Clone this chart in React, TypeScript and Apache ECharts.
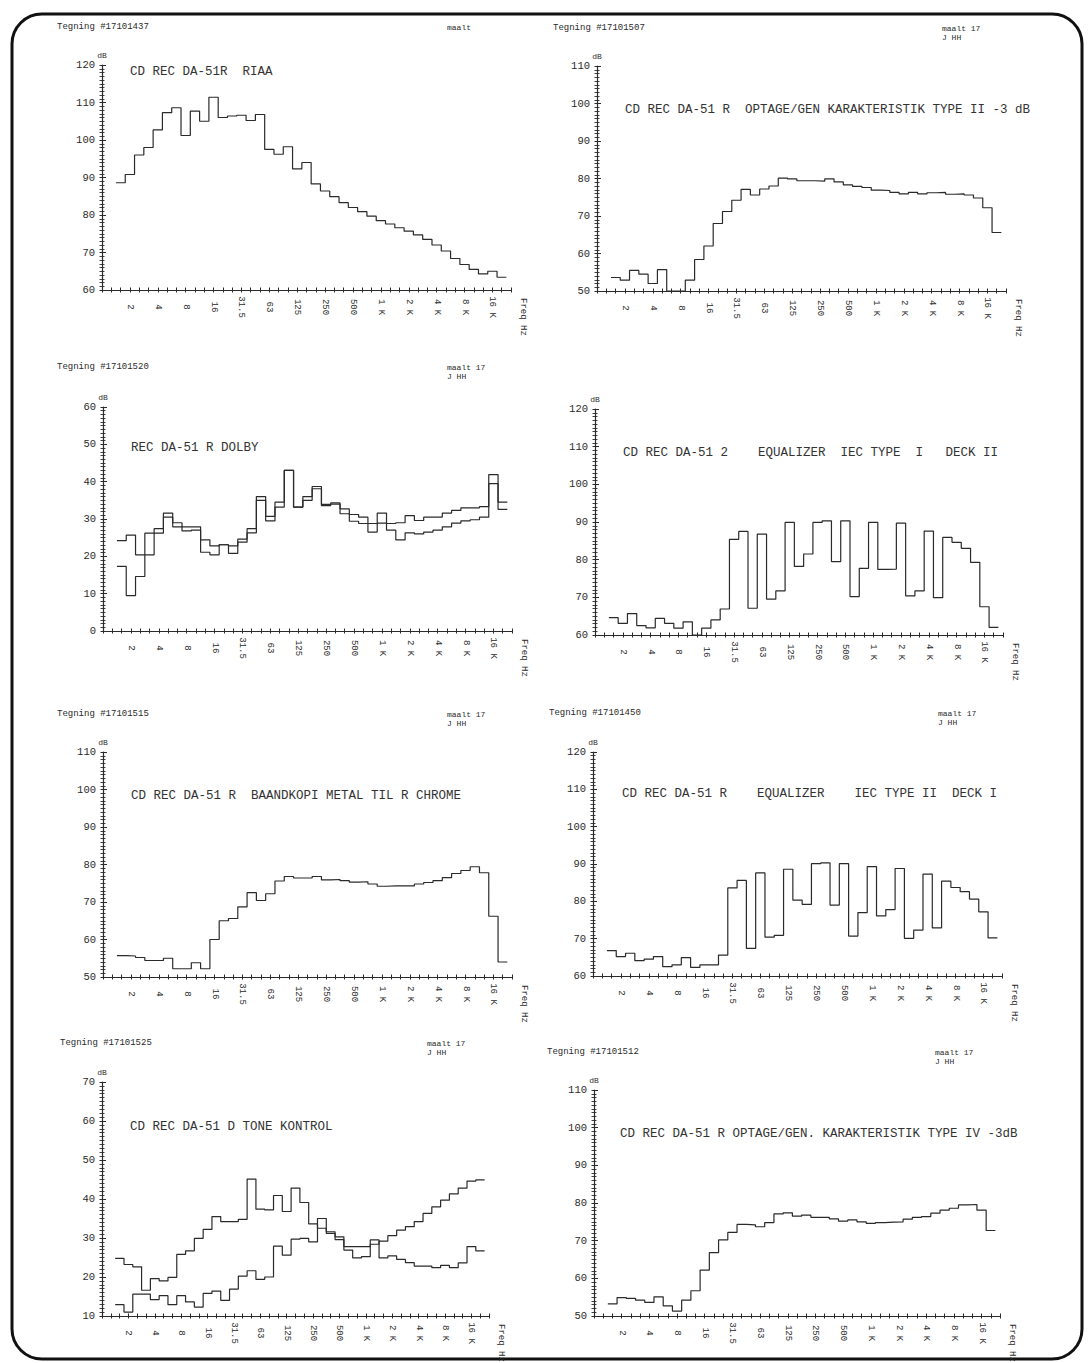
import React, { useEffect, useRef } from "react";
import * as echarts from "echarts";

// ---------- DATA ----------
// x axis: 1/3-octave band index, 0 = 1 Hz ... 44 = 25 kHz; labels every octave
const BAND_TICK_LABELS = ["2", "4", "8", "16", "31.5", "63", "125", "250", "500", "1 K", "2 K", "4 K", "8 K", "16 K"];
const FIRST_BAND = 2; // first measured band (1.6 Hz) ... last band 43 (20 kHz)

const riaa = [88.6, 90.8, 96, 98, 102.7, 107.3, 108.6, 101.2, 107.7, 105, 111.4, 106, 106.4, 106.6, 105.2, 106.8, 97.5, 96.2, 98.2, 92.3, 94, 88.3, 86.4, 84.9, 83.3, 82, 80.9, 79.7, 78.5, 77.6, 76.6, 75.7, 74.7, 73.5, 72, 70.4, 68.4, 66.8, 65.5, 64.3, 65, 63.4];
const optageTypeII = [53.6, 52.9, 55.5, 54.5, 52, 55.7, 50, 50, 52.9, 58.4, 62, 68, 71.2, 74.2, 77.1, 75.6, 77.2, 78, 80.1, 79.9, 79.4, 79.4, 79.3, 79.9, 79.1, 78.3, 77.9, 77.6, 76.9, 76.8, 76.3, 75.9, 76.3, 75.9, 76.2, 76.3, 75.8, 75.9, 75.6, 74.8, 72.2, 65.6];
const dolbyA = [24.2, 25.7, 20.4, 20.4, 26.2, 31.6, 29, 27.9, 27.9, 24.4, 22.8, 23.1, 22.8, 24.6, 27.4, 36, 30.7, 34.5, 43, 33.2, 36, 38.7, 33.9, 34.3, 32.7, 31.2, 30.5, 28.8, 31.6, 28.8, 29, 30.9, 29.6, 30.5, 30.5, 31.6, 32.3, 33, 33, 33.3, 41.9, 34.5];
const dolbyB = [17.3, 9.5, 14.6, 26.2, 27.4, 30.5, 27.9, 26.8, 27, 21.1, 20.4, 23.1, 20.8, 23.8, 26.3, 35, 29.5, 33.2, 43, 33.2, 35, 38.1, 33.6, 34, 31.4, 29.4, 28.8, 26.5, 28.9, 27, 24.4, 26.3, 26, 26.5, 27, 27.9, 28.9, 29.5, 29.8, 30.5, 39.5, 32.6];
const eqTypeIDeckII = [64.6, 63.1, 65.7, 62.5, 61.9, 64.4, 63.1, 61.8, 63.5, 60, 61.8, 64, 66.9, 85.4, 87.5, 67.1, 86.8, 69.5, 71.7, 89.9, 78.2, 81.5, 89.9, 90.3, 79.5, 90.3, 70.2, 77.7, 89.9, 77.4, 77.5, 89.7, 70.4, 71.7, 87.6, 69.9, 85.9, 84.6, 83, 79.3, 67.5, 62];
const baandkopi = [55.7, 55.6, 55.2, 54.4, 54.4, 55, 52.2, 52.2, 53.8, 52.2, 60, 65, 65.6, 68.7, 72.5, 70.4, 72.2, 75.6, 76.8, 76.4, 76.4, 76.8, 75.9, 76, 75.7, 75.3, 75.4, 74.8, 74.2, 74.3, 74.3, 74.3, 74.8, 75.2, 75.7, 76.5, 77.6, 78.4, 79.4, 77.8, 66.2, 54];
const eqTypeIIDeckI = [66.8, 65.2, 66.1, 64.1, 64.5, 65.2, 62.5, 63, 64.9, 62.3, 63, 63, 65.6, 83.6, 85.6, 67.4, 87.6, 70.4, 70.9, 88.6, 80.3, 79.2, 90.1, 90.3, 79, 90.1, 70.7, 77, 89.3, 76.1, 77.8, 88.8, 70.1, 72.3, 87.3, 72.9, 85.4, 83.7, 82.6, 80.6, 77.2, 70.2];
const toneA = [24.8, 23.2, 22.6, 16.6, 19.6, 19, 19.9, 25.8, 26.7, 29.9, 32.2, 35.5, 34.2, 34.2, 34.8, 45.1, 37.4, 37.2, 40.9, 36.8, 42.8, 39.1, 33.6, 32.5, 31.2, 29.6, 27.8, 27.8, 27.8, 28.4, 29.2, 30.6, 32, 32.9, 34.2, 36.3, 38, 39.7, 41.3, 42.8, 44.6, 44.9];
const toneB = [12.9, 11, 15.6, 15.6, 14.2, 15.2, 12.9, 15.2, 13.6, 12.3, 15.8, 16.4, 14, 16.9, 20.2, 21.6, 19.4, 20, 27.9, 25.6, 29.7, 29.9, 29, 35, 31.6, 30.3, 26.9, 24.9, 25.2, 29.5, 24.9, 25.4, 24.5, 23.7, 22.8, 22.8, 22.4, 23, 22.4, 23.6, 27.8, 26.7];
const optageTypeIV = [53.2, 54.9, 54.7, 54.2, 53.6, 55.1, 52.7, 51.3, 54.2, 56.7, 62.2, 66.8, 70.2, 72.2, 74.3, 74.2, 73.7, 74.8, 77.1, 77.4, 76.5, 76.8, 76.2, 76.2, 75.8, 75.2, 75.5, 75, 74.6, 74.8, 74.9, 75, 75.7, 76.2, 76.4, 77.3, 78.1, 78.6, 79.5, 79.6, 78.1, 72.7];

const titles = [
  "CD REC DA-51R  RIAA",
  "CD REC DA-51 R  OPTAGE/GEN KARAKTERISTIK TYPE II -3 dB",
  "REC DA-51 R DOLBY",
  "CD REC DA-51 2    EQUALIZER  IEC TYPE  I   DECK II",
  "CD REC DA-51 R  BAANDKOPI METAL TIL R CHROME",
  "CD REC DA-51 R    EQUALIZER    IEC TYPE II  DECK I",
  "CD REC DA-51 D TONE KONTROL",
  "CD REC DA-51 R OPTAGE/GEN. KARAKTERISTIK TYPE IV -3dB",
];
const drawingNumbers = ["Tegning #17101437", "Tegning #17101507", "Tegning #17101520", "", "Tegning #17101515", "Tegning #17101450", "Tegning #17101525", "Tegning #17101512"];
const maaltNotes = ["maalt", "maalt 17\nJ HH", "maalt 17\nJ HH", "", "maalt 17\nJ HH", "maalt 17\nJ HH", "maalt 17\nJ HH", "maalt 17\nJ HH"];
const yRanges: [number, number][] = [[60, 120], [50, 110], [0, 60], [60, 120], [50, 110], [60, 120], [10, 70], [50, 110]];
const panelSeries = [[riaa], [optageTypeII], [dolbyA, dolbyB], [eqTypeIDeckII], [baandkopi], [eqTypeIIDeckI], [toneA, toneB], [optageTypeIV]];

// ---------- LAYOUT ----------
const LAYOUT = [
  { grid: [102, 65, 409, 225], title: [130, 72], teg: [57, 27], maalt: [447, 23] },
  { grid: [597, 66, 409, 225], title: [625, 110], teg: [553, 28], maalt: [942, 24] },
  { grid: [103, 407, 409, 224], title: [131, 448], teg: [57, 367], maalt: [447, 363] },
  { grid: [595, 409, 408, 226], title: [623, 453], teg: [0, 0], maalt: [0, 0] },
  { grid: [103, 752, 409, 225], title: [131, 796], teg: [57, 714], maalt: [447, 710] },
  { grid: [593, 752, 409, 224], title: [622, 794], teg: [549, 713], maalt: [938, 709] },
  { grid: [102, 1082, 387, 234], title: [130, 1127], teg: [60, 1043], maalt: [427, 1039] },
  { grid: [594, 1090, 406, 226], title: [620, 1134], teg: [547, 1052], maalt: [935, 1048] },
];

const FONT = "'Liberation Mono', 'DejaVu Sans Mono', monospace";
const INK = "#2a2a2a";

function toSteps(values: number[]) {
  const pts = values.map((v, j) => [FIRST_BAND + j - 0.5, v]);
  pts.push([FIRST_BAND + values.length - 0.5, values[values.length - 1]]);
  return pts;
}

function bandLabel(v: number) {
  const idx = Math.round(v);
  if (idx % 3 === 0 && idx >= 3 && idx <= 42) return BAND_TICK_LABELS[idx / 3 - 1];
  return "";
}

export default function App() {
  const ref = useRef<HTMLDivElement>(null);
  useEffect(() => {
    if (!ref.current) return;
    const chart = echarts.init(ref.current, undefined, { renderer: "svg" });
    const n = LAYOUT.length;
    const grid: any[] = [];
    const xAxis: any[] = [];
    const yAxis: any[] = [];
    const xTickAxes: any[] = [];
    const yTickAxes: any[] = [];
    const series: any[] = [];
    const graphic: any[] = [
      {
        type: "rect",
        silent: true,
        shape: { x: 12, y: 14, width: 1070, height: 1345, r: 30 },
        style: { fill: "none", stroke: "#111", lineWidth: 3 },
      },
    ];
    LAYOUT.forEach((L, k) => {
      const [gl, gt, gw, gh] = L.grid;
      grid.push({ left: gl, top: gt, width: gw, height: gh, containLabel: false });
      xAxis.push({
        type: "value",
        gridIndex: k,
        min: 0,
        max: 44,
        interval: 1,
        axisLine: { show: true, onZero: false, lineStyle: { color: INK, width: 1.2 } },
        axisTick: { show: true, length: 2.5, lineStyle: { color: INK, width: 1 } },
        axisLabel: {
          formatter: bandLabel,
          rotate: -90,
          align: "center",
          verticalAlign: "middle",
          margin: 17,
          fontSize: 9,
          fontFamily: FONT,
          color: INK,
        },
        splitLine: { show: false },
      });
      // second x axis on the same grid: tick marks crossing the axis upward
      xTickAxes.push({
        type: "value",
        gridIndex: k,
        position: "bottom",
        min: 0,
        max: 44,
        interval: 1,
        axisLine: { show: false, onZero: false },
        axisTick: { show: true, inside: true, length: 2.5, lineStyle: { color: INK, width: 1 } },
        axisLabel: { show: false },
        splitLine: { show: false },
      });
      yAxis.push({
        type: "value",
        gridIndex: k,
        min: yRanges[k][0],
        max: yRanges[k][1],
        interval: 10,
        name: "dB",
        nameLocation: "end",
        nameGap: 3,
        nameTextStyle: { fontSize: 8, fontFamily: FONT, color: INK },
        axisLine: { show: true, onZero: false, lineStyle: { color: INK, width: 1.2 } },
        axisTick: { show: true, inside: true, length: 4, lineStyle: { color: INK } },
        minorTick: { show: true, splitNumber: 10, length: 2.5, lineStyle: { color: INK, width: 0.9 } },
        axisLabel: { fontSize: 10.5, fontFamily: FONT, color: INK, margin: 7 },
        splitLine: { show: false },
      });
      // second y axis on the same grid: ticks on the outer side, giving the ladder look
      yTickAxes.push({
        type: "value",
        gridIndex: k,
        position: "left",
        min: yRanges[k][0],
        max: yRanges[k][1],
        interval: 10,
        axisLine: { show: false, onZero: false },
        axisTick: { show: true, inside: false, length: 2.5, lineStyle: { color: INK } },
        minorTick: { show: true, splitNumber: 10, length: 2.5, lineStyle: { color: INK, width: 0.9 } },
        axisLabel: { show: false },
        splitLine: { show: false },
      });
      panelSeries[k].forEach((vals) => {
        series.push({
          type: "line",
          xAxisIndex: k,
          yAxisIndex: k,
          step: "end",
          symbol: "none",
          data: toSteps(vals),
          lineStyle: { color: INK, width: 1.2 },
        });
      });
      graphic.push({
        type: "text",
        silent: true,
        x: L.title[0],
        y: L.title[1],
        style: { text: titles[k], font: `12.5px ${FONT}`, fill: "#333", verticalAlign: "middle" },
      });
      if (drawingNumbers[k]) {
        graphic.push({
          type: "text",
          silent: true,
          x: L.teg[0],
          y: L.teg[1],
          style: { text: drawingNumbers[k], font: `9px ${FONT}`, fill: INK, verticalAlign: "middle" },
        });
      }
      if (maaltNotes[k]) {
        graphic.push({
          type: "text",
          silent: true,
          x: L.maalt[0],
          y: L.maalt[1],
          style: { text: maaltNotes[k], font: `8px ${FONT}`, fill: INK, verticalAlign: "top", lineHeight: 9 },
        });
      }
      graphic.push({
        type: "text",
        silent: true,
        x: gl + gw + 12,
        y: gt + gh + 8,
        rotation: -Math.PI / 2,
        style: { text: "Freq Hz", font: `9px ${FONT}`, fill: INK, align: "left", verticalAlign: "middle" },
      });
    });
    chart.setOption({
      animation: false,
      backgroundColor: "#ffffff",
      grid,
      xAxis: xAxis.concat(xTickAxes),
      yAxis: yAxis.concat(yTickAxes),
      series,
      graphic,
    });
    void n;
    return () => chart.dispose();
  }, []);
  return (
    <div
      ref={ref}
      style={{ position: "absolute", left: 0, top: 0, width: 1088, height: 1363 }}
    />
  );
}
